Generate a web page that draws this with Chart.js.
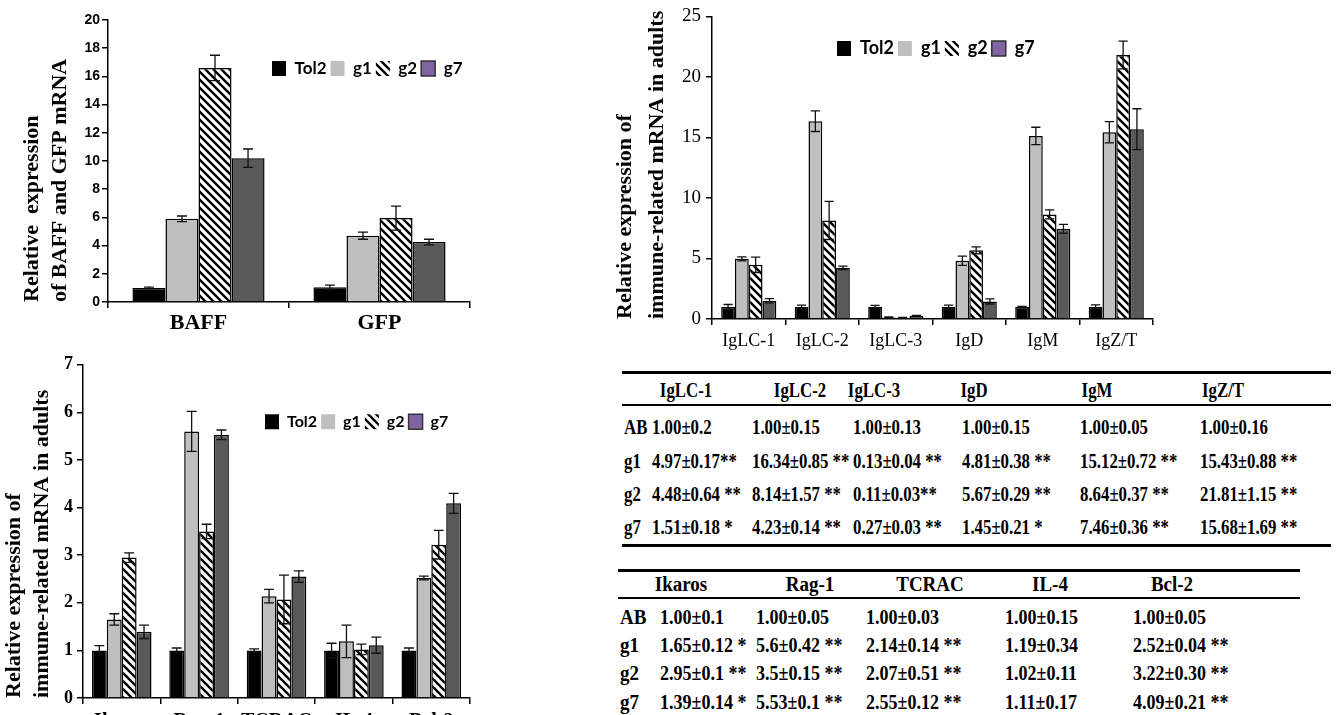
<!DOCTYPE html>
<html>
<head>
<meta charset="utf-8">
<script src="https://cdn.jsdelivr.net/npm/chart.js@4.4.0/dist/chart.umd.min.js"></script>
<style>
  html, body { margin: 0; padding: 0; background: #fff; overflow: hidden; width: 1336px; height: 715px; }
  .box { position: absolute; }
  .t { position: absolute; font-family: "Liberation Serif", "Times New Roman", serif; font-weight: bold; color: #000; white-space: nowrap; line-height: 24px; transform-origin: 0 50%; }
  .rule { position: absolute; background: #000; }
</style>
</head>
<body>
<div class="box" style="left:0;top:0"><canvas id="baffChart" width="480" height="340"></canvas></div>
<div class="box" style="left:600px;top:0"><canvas id="igChart" width="563" height="362"></canvas></div>
<div class="box" style="left:0;top:350px"><canvas id="immuneChart" width="480" height="400"></canvas></div>
<div id="tables"></div>

<script>
// ---- data ----
const seriesNames = ['Tol2', 'g1', 'g2', 'g7'];

const baffLabels = ['BAFF', 'GFP'];
const baffTol2 = [1.0, 1.05];
const baffG1 = [5.9, 4.7];
const baffG2 = [16.6, 5.95];
const baffG7 = [10.2, 4.25];
const baffTol2Err = [0.05, 0.15];
const baffG1Err = [0.2, 0.25];
const baffG2Err = [0.9, 0.85];
const baffG7Err = [0.65, 0.2];

const igLabels = ['IgLC-1', 'IgLC-2', 'IgLC-3', 'IgD', 'IgM', 'IgZ/T'];
const igTol2 = [1.00, 1.00, 1.00, 1.00, 1.00, 1.00];
const igG1 = [4.97, 16.34, 0.13, 4.81, 15.12, 15.43];
const igG2 = [4.48, 8.14, 0.11, 5.67, 8.64, 21.81];
const igG7 = [1.51, 4.23, 0.27, 1.45, 7.46, 15.68];
const igTol2Err = [0.2, 0.15, 0.13, 0.15, 0.05, 0.16];
const igG1Err = [0.17, 0.85, 0.04, 0.38, 0.72, 0.88];
const igG2Err = [0.64, 1.57, 0.03, 0.29, 0.37, 1.15];
const igG7Err = [0.18, 0.14, 0.03, 0.21, 0.36, 1.69];

const immLabels = ['Ikaros', 'Rag-1', 'TCRAC', 'IL-4', 'Bcl-2'];
const immTol2 = [1.00, 1.00, 1.00, 1.00, 1.00];
const immG1 = [1.65, 5.6, 2.14, 1.19, 2.52];
const immG2 = [2.95, 3.5, 2.07, 1.02, 3.22];
const immG7 = [1.39, 5.53, 2.55, 1.11, 4.09];
const immTol2Err = [0.1, 0.05, 0.03, 0.15, 0.05];
const immG1Err = [0.12, 0.42, 0.14, 0.34, 0.04];
const immG2Err = [0.1, 0.15, 0.51, 0.11, 0.30];
const immG7Err = [0.14, 0.1, 0.12, 0.17, 0.21];

const rowNames = ['AB', 'g1', 'g2', 'g7'];
const igTableRows = [
  ['1.00±0.2', '1.00±0.15', '1.00±0.13', '1.00±0.15', '1.00±0.05', '1.00±0.16'],
  ['4.97±0.17**', '16.34±0.85 **', '0.13±0.04 **', '4.81±0.38 **', '15.12±0.72 **', '15.43±0.88 **'],
  ['4.48±0.64 **', '8.14±1.57 **', '0.11±0.03**', '5.67±0.29 **', '8.64±0.37 **', '21.81±1.15 **'],
  ['1.51±0.18 *', '4.23±0.14 **', '0.27±0.03 **', '1.45±0.21 *', '7.46±0.36 **', '15.68±1.69 **']
];
const immTableRows = [
  ['1.00±0.1', '1.00±0.05', '1.00±0.03', '1.00±0.15', '1.00±0.05'],
  ['1.65±0.12 *', '5.6±0.42 **', '2.14±0.14 **', '1.19±0.34', '2.52±0.04 **'],
  ['2.95±0.1 **', '3.5±0.15 **', '2.07±0.51 **', '1.02±0.11', '3.22±0.30 **'],
  ['1.39±0.14 *', '5.53±0.1 **', '2.55±0.12 **', '1.11±0.17', '4.09±0.21 **']
];

// ---- styles ----
function makeHatch() {
  const c = document.createElement('canvas');
  c.width = 8; c.height = 8;
  const x = c.getContext('2d');
  x.fillStyle = '#fff';
  x.fillRect(0, 0, 8, 8);
  x.strokeStyle = '#000';
  x.lineWidth = 2.4;
  x.beginPath();
  for (const o of [-8, 0, 8]) {
    x.moveTo(o - 1, -1);
    x.lineTo(o + 9, 9);
  }
  x.stroke();
  return x.createPattern(c, 'repeat');
}
const hatch = makeHatch();
const barFills = ['#000000', '#BFBFBF', hatch, '#595959'];
const legendFills = ['#000000', '#BFBFBF', hatch, '#8064A2'];
const legendLines = [0, 0, 0, 1.5];
const legendPadding = 4;

const errorBars = {
  id: 'errorBars',
  afterDatasetsDraw(chart) {
    const ctx = chart.ctx;
    const y = chart.scales.y;
    ctx.save();
    ctx.strokeStyle = '#111';
    ctx.lineWidth = 1.3;
    chart.data.datasets.forEach((ds, i) => {
      const meta = chart.getDatasetMeta(i);
      meta.data.forEach((bar, j) => {
        const v = ds.data[j], e = ds.errors[j];
        const top = y.getPixelForValue(v + e);
        const bot = y.getPixelForValue(Math.max(v - e, 0));
        const cap = Math.min(5, bar.width / 3);
        ctx.beginPath();
        ctx.moveTo(bar.x, top); ctx.lineTo(bar.x, bot);
        ctx.moveTo(bar.x - cap, top); ctx.lineTo(bar.x + cap, top);
        ctx.moveTo(bar.x - cap, bot); ctx.lineTo(bar.x + cap, bot);
        ctx.stroke();
      });
    });
    ctx.restore();
  }
};

// legend inside the plot, on one row, starting at a given x
const rowLegend = {
  id: 'rowLegend',
  afterInit(chart) {
    if (chart.legend) chart.legend.isHorizontal = () => true;
  },
  afterLayout(chart, args, opts) {
    const lg = chart.legend;
    if (!lg) return;
    lg.left = opts.x - legendPadding;
    lg.right = lg.left + 2000;
    lg.width = 2000;
  }
};

function makeDatasets(values, errors) {
  return values.map((vals, i) => ({
    label: seriesNames[i],
    data: vals,
    errors: errors[i],
    backgroundColor: barFills[i],
    borderColor: '#000',
    borderWidth: 1.5,
    barPercentage: 1.0
  }));
}

function legendOpts(titlePad, size) {
  return {
    position: 'chartArea',
    align: 'start',
    title: { display: true, text: '', font: { size: 10, lineHeight: 1 }, padding: { top: titlePad, bottom: 0 } },
    labels: {
      color: '#000',
      boxWidth: 14,
      boxHeight: 15,
      padding: legendPadding,
      font: { family: 'Lato', size: size, weight: 'bold' },
      generateLabels(chart) {
        return chart.data.datasets.map((ds, i) => ({
          text: ds.label,
          fillStyle: legendFills[i],
          strokeStyle: '#333',
          lineWidth: legendLines[i],
          hidden: false,
          datasetIndex: i,
          fontColor: '#000'
        }));
      }
    }
  };
}

function makeChart(id, cfg) {
  return new Chart(document.getElementById(id), {
    type: 'bar',
    data: { labels: cfg.labels, datasets: makeDatasets(cfg.values, cfg.errors) },
    plugins: [errorBars, rowLegend],
    options: {
      responsive: false,
      animation: false,
      devicePixelRatio: 1,
      layout: { padding: { top: cfg.padTop, right: 10, left: 0, bottom: 0 } },
      datasets: { bar: { categoryPercentage: cfg.catPct } },
      plugins: {
        legend: legendOpts(cfg.legendPad, cfg.legendSize),
        rowLegend: { x: cfg.legendX },
        tooltip: { enabled: false }
      },
      scales: {
        x: {
          grid: { display: true, drawOnChartArea: false, tickLength: 6, color: '#000', lineWidth: 1.5, offset: true },
          border: { display: true, color: '#000', width: 1.5 },
          ticks: { color: '#000', maxRotation: 0, autoSkip: false, font: cfg.xFont, padding: cfg.xPad },
          afterFit(s) { s.height = cfg.xHeight; }
        },
        y: {
          min: 0,
          max: cfg.yMax,
          ticks: { stepSize: cfg.yStep, color: '#000', font: cfg.yFont, padding: cfg.yPad },
          grid: { display: true, drawOnChartArea: false, tickLength: 6, color: '#000', lineWidth: 1.5 },
          border: { display: true, color: '#000', width: 1.5 },
          title: {
            display: true,
            text: cfg.yTitle,
            align: 'start',
            color: '#000',
            font: { family: 'Liberation Serif', size: 22, weight: 'bold', lineHeight: cfg.titleLH },
            padding: { top: cfg.titlePad, bottom: 0 }
          },
          afterFit(s) { s.width = cfg.yWidth; }
        }
      }
    }
  });
}

function drawCharts() {
  makeChart('baffChart', {
    labels: baffLabels,
    values: [baffTol2, baffG1, baffG2, baffG7],
    errors: [baffTol2Err, baffG1Err, baffG2Err, baffG7Err],
    padTop: 20, catPct: 0.73,
    legendX: 272, legendPad: 26, legendSize: 17,
    xFont: { family: 'Liberation Serif', size: 22, weight: 'bold' }, xPad: 2, xHeight: 38,
    yMax: 20, yStep: 2,
    yFont: { family: 'Liberation Sans', size: 14, weight: 'bold' }, yPad: 2,
    yTitle: ['Relative  expression', 'of BAFF and GFP mRNA'], titleLH: 1.27, titlePad: 18,
    yWidth: 108
  });

  makeChart('igChart', {
    labels: igLabels,
    values: [igTol2, igG1, igG2, igG7],
    errors: [igTol2Err, igG1Err, igG2Err, igG7Err],
    padTop: 12, catPct: 0.75,
    legendX: 237, legendPad: 9, legendSize: 18,
    xFont: { family: 'Liberation Serif', size: 18 }, xPad: 5, xHeight: 43,
    yMax: 25, yStep: 5,
    yFont: { family: 'Liberation Serif', size: 19 }, yPad: 5,
    yTitle: ['Relative expression of', 'immune-related mRNA in adults'], titleLH: 1.45, titlePad: 9,
    yWidth: 112
  });

  makeChart('immuneChart', {
    labels: immLabels,
    values: [immTol2, immG1, immG2, immG7],
    errors: [immTol2Err, immG1Err, immG2Err, immG7Err],
    padTop: 14, catPct: 0.77,
    legendX: 265, legendPad: 35, legendSize: 16,
    xFont: { family: 'Liberation Serif', size: 20, weight: 'bold' }, xPad: 6, xHeight: 52,
    yMax: 7, yStep: 1,
    yFont: { family: 'Liberation Serif', size: 18, weight: 'bold' }, yPad: 4,
    yTitle: ['Relative expression of', 'immune-related mRNA in adults'], titleLH: 1.27, titlePad: 0,
    yWidth: 83
  });
}

// ---- tables ----
const host = document.getElementById('tables');
function text(str, x, y, size, sx, center) {
  const d = document.createElement('div');
  d.className = 't';
  d.textContent = str;
  d.style.fontSize = size + 'px';
  d.style.top = (y - 12) + 'px';
  d.style.left = x + 'px';
  d.style.transform = center ? 'translateX(-50%) scaleX(' + sx + ')' : 'scaleX(' + sx + ')';
  if (center) d.style.transformOrigin = '50% 50%';
  host.appendChild(d);
}
function rule(x, y, w, h) {
  const d = document.createElement('div');
  d.className = 'rule';
  Object.assign(d.style, { left: x + 'px', top: y + 'px', width: w + 'px', height: h + 'px' });
  host.appendChild(d);
}

// table 1
rule(622, 371, 709, 3);
rule(622, 404, 709, 1.5);
rule(622, 544, 709, 3);
const t1Cols = [652, 752, 853, 962, 1080, 1200];
const t1Heads = [686, 800, 874, 974, 1097, 1223];
igLabels.forEach((h, i) => text(h, t1Heads[i], 390, 20, 0.84, true));
const t1RowY = [427, 461, 494, 527];
rowNames.forEach((r, k) => {
  text(r, 624, t1RowY[k], 20, 0.84);
  igTableRows[k].forEach((v, i) => text(v, t1Cols[i], t1RowY[k], 20, 0.84));
});

// table 2
rule(618, 569, 682, 3);
rule(618, 597, 682, 1.5);
const t2Cols = [660, 756, 866, 1005, 1133];
const t2Heads = [681, 810, 930, 1050, 1172];
immLabels.forEach((h, i) => text(h, t2Heads[i], 584, 20, 0.95, true));
const t2RowY = [617, 645, 673, 702];
rowNames.forEach((r, k) => {
  text(r, 620, t2RowY[k], 20, 0.95);
  immTableRows[k].forEach((v, i) => text(v, t2Cols[i], t2RowY[k], 20, 0.9));
});

Promise.all([
  document.fonts.load('bold 17px Lato'),
  document.fonts.load('bold 22px "Liberation Serif"'),
  document.fonts.load('18px "Liberation Serif"'),
  document.fonts.load('bold 14px "Liberation Sans"')
]).catch(() => {}).then(drawCharts);
</script>
</body>
</html>
